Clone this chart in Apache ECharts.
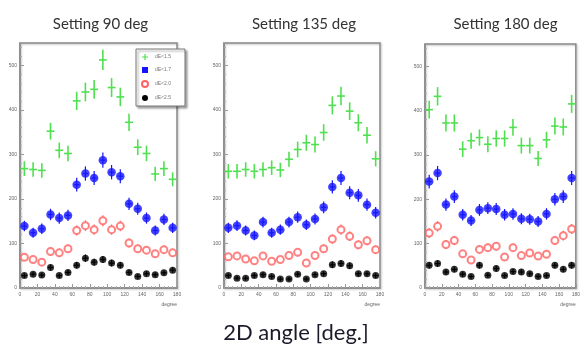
<!DOCTYPE html>
<html>
<head>
<meta charset="utf-8">
<script src="https://cdn.jsdelivr.net/npm/echarts@6/dist/echarts.min.js"></script>
<style>
  html, body { margin: 0; background: #fff; }
  #chart { width: 583px; height: 363px; }
</style>
</head>
<body>
<div id="chart"></div>
<script>
// bin centres (degree), 10 deg bins
const binCenters = [5, 15, 25, 35, 45, 55, 65, 75, 85, 95, 105, 115, 125, 135, 145, 155, 165, 175];
const cutNames = ['dE<1.5', 'dE<1.7', 'dE<2.0', 'dE<2.5'];
const panelTitles = ['Setting 90 deg', 'Setting 135 deg', 'Setting 180 deg'];

// Setting 90 deg
const set90_cut15 = [268, 266, 264, 352, 309, 302, 420, 440, 446, 512, 450, 429, 372, 316, 302, 256, 268, 244];
const set90_cut17 = [139, 124, 133, 165, 157, 163, 232, 257, 247, 287, 260, 251, 189, 178, 157, 129, 154, 135];
const set90_cut20 = [69, 64, 58, 82, 79, 88, 129, 140, 131, 151, 131, 139, 101, 88, 85, 77, 86, 79];
const set90_cut25 = [28, 31, 29, 46, 28, 35, 51, 67, 58, 64, 56, 51, 35, 26, 32, 30, 34, 40];

// Setting 135 deg
const set135_cut15 = [262, 262, 266, 262, 266, 270, 265, 289, 311, 326, 322, 349, 410, 431, 397, 371, 343, 290];
const set135_cut17 = [135, 140, 129, 118, 148, 124, 131, 148, 159, 142, 155, 181, 227, 247, 214, 208, 187, 169];
const set135_cut20 = [70, 72, 65, 61, 72, 60, 64, 73, 80, 56, 73, 88, 110, 131, 116, 97, 106, 86];
const set135_cut25 = [28, 22, 22, 28, 30, 26, 20, 20, 31, 20, 30, 32, 52, 55, 50, 32, 32, 28];

// Setting 180 deg
const set180_cut15 = [402, 432, 372, 372, 313, 332, 339, 324, 337, 337, 362, 321, 321, 292, 334, 365, 363, 415];
const set180_cut17 = [240, 259, 188, 206, 165, 152, 176, 180, 178, 165, 167, 156, 155, 150, 167, 200, 206, 248];
const set180_cut20 = [124, 139, 98, 107, 77, 63, 87, 91, 94, 70, 91, 73, 79, 72, 76, 107, 118, 133];
const set180_cut25 = [51, 55, 36, 42, 31, 26, 51, 29, 44, 28, 37, 36, 32, 26, 28, 51, 42, 51];

const panels = [
  [set90_cut15, set90_cut17, set90_cut20, set90_cut25],
  [set135_cut15, set135_cut17, set135_cut20, set135_cut25],
  [set180_cut15, set180_cut17, set180_cut20, set180_cut25]
];

const cutColors = ['#4fe04f', '#1414ff', '#ff6464', '#000000'];

const gridBoxes = [
  { left: 20, top: 43, width: 157, height: 245 },
  { left: 224, top: 43, width: 156, height: 245 },
  { left: 425, top: 44, width: 157, height: 244 }
];

// error bars (sqrt(N)) plus bin-width bar, with an optional gap around the marker
function errorBars(color, lineWidth, halfBin, gap) {
  return function (params, api) {
    const x = api.value(0), y = api.value(1), e = Math.sqrt(y);
    const c = api.coord([x, y]);
    const top = api.coord([x, y + e]), bot = api.coord([x, y - e]);
    const l = api.coord([x - halfBin, y]), r = api.coord([x + halfBin, y]);
    const st = { stroke: color, lineWidth: lineWidth };
    return {
      type: 'group',
      children: [
        { type: 'line', shape: { x1: c[0], y1: top[1], x2: c[0], y2: c[1] - gap }, style: st },
        { type: 'line', shape: { x1: c[0], y1: c[1] + gap, x2: c[0], y2: bot[1] }, style: st },
        { type: 'line', shape: { x1: l[0], y1: c[1], x2: c[0] - gap, y2: c[1] }, style: st },
        { type: 'line', shape: { x1: c[0] + gap, y1: c[1], x2: r[0], y2: c[1] }, style: st }
      ]
    };
  };
}

const series = [];
panels.forEach((cuts, p) => {
  cuts.forEach((vals, k) => {
    const data = vals.map((v, i) => [binCenters[i], v]);
    const color = cutColors[k];
    if (k === 0) {
      series.push({
        name: cutNames[k], type: 'custom', xAxisIndex: p, yAxisIndex: p,
        renderItem: errorBars(color, 1.6, 4.5, 0), data: data, z: 2
      });
      return;
    }
    const gap = k === 2 ? 3.5 : 0;
    series.push({
      name: cutNames[k], type: 'custom', xAxisIndex: p, yAxisIndex: p,
      renderItem: errorBars(color, 1.2, 3, gap), data: data, z: 2
    });
    series.push({
      name: cutNames[k], type: 'scatter', xAxisIndex: p, yAxisIndex: p,
      symbol: k === 2 ? 'emptyCircle' : 'circle',
      symbolSize: k === 1 ? 8.5 : 7,
      itemStyle: k === 2 ? { color: color, borderWidth: 1.3 } : { color: color },
      data: data, z: 3
    });
  });
});

const chart = echarts.init(document.getElementById('chart'), null, { renderer: 'canvas' });

const option = {
  animation: false,
  backgroundColor: '#fff',
  title: panelTitles.map((t, i) => ({
    text: t,
    left: gridBoxes[i].left + gridBoxes[i].width / 2 - 3,
    top: 12,
    textAlign: 'center',
    textStyle: { fontFamily: 'Lato', fontSize: 15, fontWeight: 'normal', color: '#333' }
  })).concat([{
    text: '2D angle [deg.]',
    left: 291,
    top: 317,
    textAlign: 'center',
    textStyle: { fontFamily: 'Lato', fontSize: 22, fontWeight: 'normal', color: '#1a1a2a' }
  }]),
  legend: {
    orient: 'vertical',
    left: 136, top: 49,
    width: 42,
    padding: [5, 14, 5, 5],
    itemWidth: 6, itemHeight: 6, itemGap: 7,
    backgroundColor: '#fff',
    borderColor: '#777', borderWidth: 1,
    shadowColor: 'rgba(0,0,0,0.35)', shadowBlur: 2, shadowOffsetX: 2, shadowOffsetY: 2,
    textStyle: { fontSize: 5, color: '#777', padding: [0, 0, 0, 2] },
    selectedMode: false,
    data: [
      { name: cutNames[0], icon: 'path://M4,0H6V4H10V6H6V10H4V6H0V4H4Z', itemStyle: { color: cutColors[0] } },
      { name: cutNames[1], icon: 'rect', itemStyle: { color: cutColors[1] } },
      { name: cutNames[2], icon: 'emptyCircle', itemStyle: { color: cutColors[2], borderColor: cutColors[2], borderWidth: 1 } },
      { name: cutNames[3], icon: 'circle', itemStyle: { color: cutColors[3] } }
    ]
  },
  grid: gridBoxes.map(g => Object.assign({
    show: true, borderColor: '#8a8a8a', borderWidth: 1.5,
    shadowColor: 'rgba(0,0,0,0.25)', shadowBlur: 2, shadowOffsetX: 1, shadowOffsetY: 1
  }, g)),
  xAxis: gridBoxes.map((g, i) => ({
    type: 'value', gridIndex: i, min: 0, max: 180, interval: 20,
    name: 'degree', nameLocation: 'end', nameGap: 0,
    nameTextStyle: { fontSize: 5, color: '#666', align: 'right', verticalAlign: 'top', padding: [14, 0, 0, 0] },
    axisLine: { show: true, lineStyle: { color: '#8a8a8a', width: 1.5 } },
    axisTick: { show: true, inside: true, length: 4, lineStyle: { color: '#999' } },
    minorTick: { show: true, splitNumber: 4, length: 2, lineStyle: { color: '#aaa' } },
    splitLine: { show: false },
    axisLabel: { fontSize: 5, color: '#666', margin: 4 }
  })),
  yAxis: gridBoxes.map((g, i) => ({
    type: 'value', gridIndex: i, min: 0, max: 550, interval: 100,
    axisLine: { show: true, lineStyle: { color: '#8a8a8a', width: 1.5 } },
    axisTick: { show: true, inside: true, length: 4, lineStyle: { color: '#999' } },
    minorTick: { show: true, splitNumber: 5, length: 2, lineStyle: { color: '#aaa' } },
    splitLine: { show: false },
    axisLabel: {
      fontSize: 5, color: '#666', margin: 3,
      formatter: v => (v % 100 === 0 ? String(v) : '')
    }
  })),
  series: series
};

chart.setOption(option);
</script>
</body>
</html>
